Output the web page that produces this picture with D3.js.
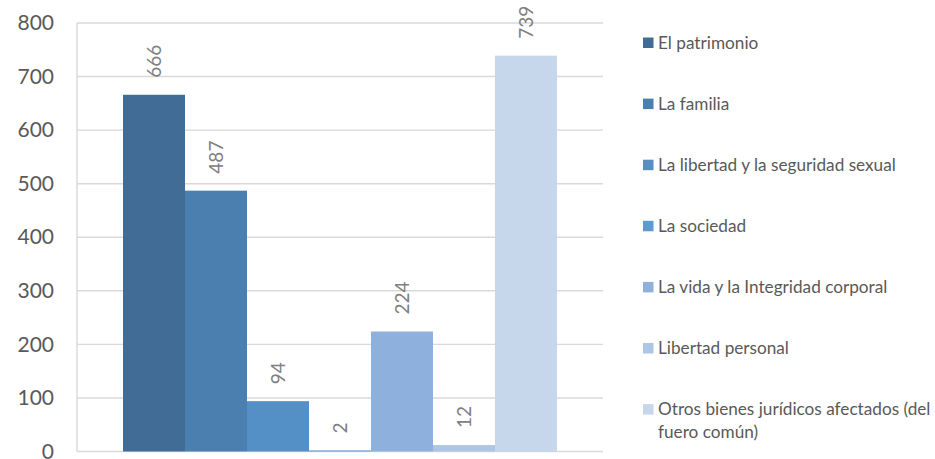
<html>
<head>
<meta charset="utf-8">
<script src="https://d3js.org/d3.v7.min.js"></script>
<style>
  body { margin: 0; background: #fff; }
  text { font-family: Lato, "Open Sans", sans-serif; }
</style>
</head>
<body>
<div id="chart"></div>
<script>
// data
var categories = ["El patrimonio", "La familia", "La libertad y la seguridad sexual",
  "La sociedad", "La vida y la Integridad corporal", "Libertad personal",
  "Otros bienes jurídicos afectados (del fuero común)"];
var values = [666, 487, 94, 2, 224, 12, 739];
var colors = ["#406c96", "#4a7fb0", "#5490c6", "#5b9bd5", "#8db1dc", "#adc6e5", "#c6d7ec"];
var yTicks = [0, 100, 200, 300, 400, 500, 600, 700, 800];
// legend lines (last entry wraps like in the original)
var legendLines = [["El patrimonio"], ["La familia"], ["La libertad y la seguridad sexual"],
  ["La sociedad"], ["La vida y la Integridad corporal"], ["Libertad personal"],
  ["Otros bienes jurídicos afectados (del", "fuero común)"]];

var W = 935, H = 459;
var margin = { top: 23, right: 332, bottom: 7.5, left: 77 },
    width = W - margin.left - margin.right,
    height = H - margin.top - margin.bottom;

var svg = d3.select("#chart").append("svg")
    .attr("width", W)
    .attr("height", H);

var g = svg.append("g").attr("transform", "translate(" + margin.left + "," + margin.top + ")");

var y = d3.scaleLinear().domain([0, 800]).range([height, 0]);
var x0 = d3.scaleBand().domain(["total"]).range([0, width]).paddingOuter(0.106);
var x1 = d3.scaleBand().domain(categories).range([0, x0.bandwidth()]);

// gridlines
g.selectAll(".grid")
  .data(yTicks)
  .enter().append("line")
    .attr("x1", 0).attr("x2", width)
    .attr("y1", d => y(d)).attr("y2", d => y(d))
    .attr("stroke", "#d9d9d9")
    .attr("stroke-width", 1.4);

// left axis line
g.append("line")
  .attr("x1", 0).attr("x2", 0)
  .attr("y1", y(800)).attr("y2", y(0))
  .attr("stroke", "#d9d9d9")
  .attr("stroke-width", 1.4);

// y axis labels
var yaxis = d3.axisLeft(y).tickValues(yTicks).tickSize(0).tickPadding(23);
var ya = g.append("g").call(yaxis);
ya.select(".domain").remove();
ya.selectAll("text")
  .attr("font-family", "Lato, 'Open Sans', sans-serif")
  .attr("font-size", "21px")
  .attr("fill", "#595959");

// bars
var bars = g.append("g").attr("transform", "translate(" + x0("total") + ",0)");
bars.selectAll("rect")
  .data(values)
  .enter().append("rect")
    .attr("x", (d, i) => x1(categories[i]))
    .attr("width", x1.bandwidth())
    .attr("y", d => y(d))
    .attr("height", d => y(0) - y(d))
    .attr("fill", (d, i) => colors[i]);

// data labels, rotated
bars.selectAll(".lbl")
  .data(values)
  .enter().append("text")
    .attr("transform", (d, i) => "translate(" + (x1(categories[i]) + x1.bandwidth() / 2) + "," + (y(d) - 17) + ") rotate(-90)")
    .attr("dy", "0.36em")
    .attr("text-anchor", "start")
    .attr("font-size", "19px")
    .attr("fill", "#808080")
    .text(d => d);

// legend
var legend = svg.append("g").attr("transform", "translate(643,0)");
var items = legend.selectAll(".item")
  .data(legendLines)
  .enter().append("g")
    .attr("transform", (d, i) => "translate(0," + (42.7 + i * 61.1) + ")");

items.append("rect")
  .attr("x", 0).attr("y", -5.2)
  .attr("width", 10.5).attr("height", 10.5)
  .attr("fill", (d, i) => colors[i]);

items.each(function(lines) {
  var t = d3.select(this).append("text")
    .attr("x", 15)
    .attr("font-size", "17.2px")
    .attr("fill", "#595959");
  t.selectAll("tspan")
    .data(lines)
    .enter().append("tspan")
      .attr("x", 15)
      .attr("dy", (d, i) => i === 0 ? "0.35em" : "22.5px")
      .text(d => d);
});
</script>
</body>
</html>
